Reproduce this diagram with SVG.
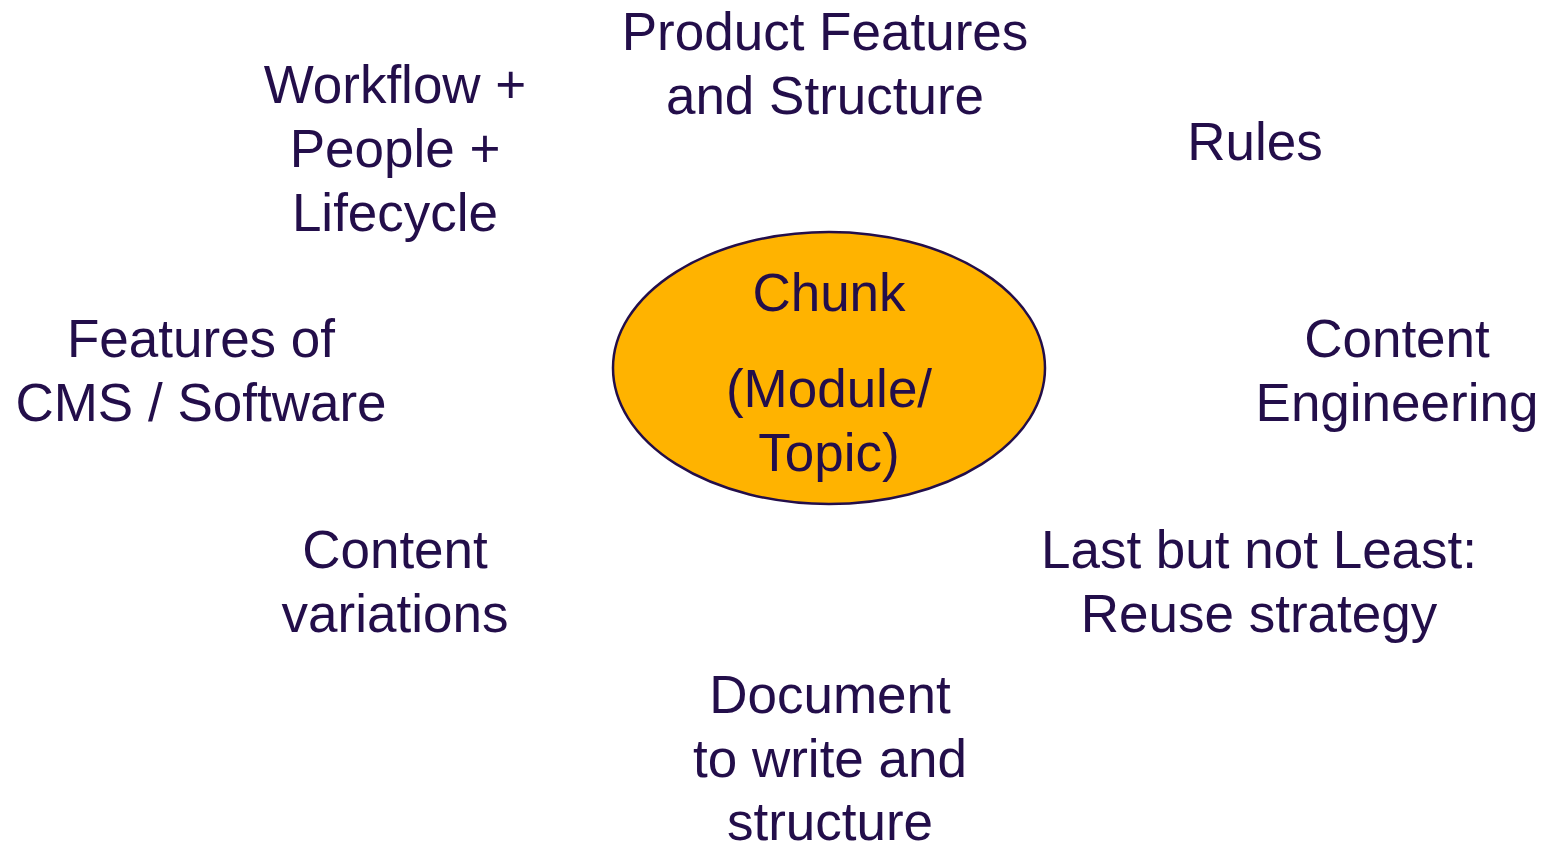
<svg xmlns="http://www.w3.org/2000/svg" width="1544" height="843" viewBox="0 0 1544 843">
<style>
text{font-family:"Liberation Sans",Arial,sans-serif;font-size:53px;fill:#230E4A;text-anchor:middle}
.node{fill:#FFB300;stroke:#230E4A;stroke-width:2.5}
</style>
<rect width="1544" height="843" fill="#FFFFFF"/>
<g id="connectors"></g>
<g id="chunk">
<ellipse class="node" cx="829" cy="368" rx="216" ry="136"/>
<text x="829" y="311">Chunk</text>
<text x="829" y="407">(Module/</text>
<text x="829" y="471">Topic)</text>
</g>
<g id="product-features">
<text x="825" y="50">Product Features</text>
<text x="825" y="114">and Structure</text>
</g>
<g id="workflow">
<text x="395" y="103">Workflow +</text>
<text x="395" y="167">People +</text>
<text x="395" y="231">Lifecycle</text>
</g>
<g id="rules">
<text x="1255" y="160">Rules</text>
</g>
<g id="cms">
<text x="201" y="357">Features of</text>
<text x="201" y="421">CMS / Software</text>
</g>
<g id="content-engineering">
<text x="1397" y="357">Content</text>
<text x="1397" y="421">Engineering</text>
</g>
<g id="content-variations">
<text x="395" y="568">Content</text>
<text x="395" y="632">variations</text>
</g>
<g id="reuse">
<text x="1259" y="568">Last but not Least:</text>
<text x="1259" y="632">Reuse strategy</text>
</g>
<g id="document">
<text x="830" y="713">Document</text>
<text x="830" y="777">to write and</text>
<text x="830" y="840">structure</text>
</g>
</svg>
